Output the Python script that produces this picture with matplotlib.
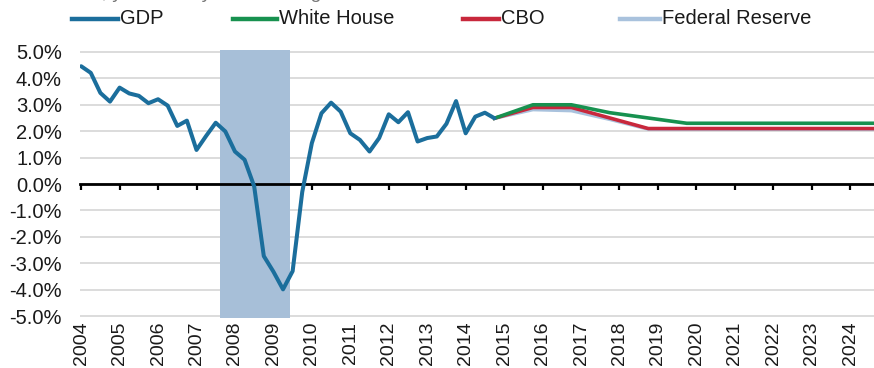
import matplotlib
matplotlib.use("Agg")
import matplotlib.pyplot as plt
from matplotlib.lines import Line2D
import numpy as np

plt.rcParams['font.family'] = ['Liberation Sans', 'DejaVu Sans']

# Real GDP, year-over-year % change, quarterly 2004Q1 - 2014Q4
gdp_start = 2004.0
gdp = [4.46, 4.21, 3.45, 3.12,
       3.65, 3.43, 3.34, 3.06,
       3.21, 2.97, 2.20, 2.40,
       1.29, 1.82, 2.32, 1.99,
       1.23, 0.92, -0.09, -2.73,
       -3.32, -3.99, -3.30, -0.30,
       1.55, 2.68, 3.08, 2.74,
       1.92, 1.67, 1.23, 1.74,
       2.64, 2.34, 2.72, 1.61,
       1.74, 1.80, 2.28, 3.14,
       1.92, 2.55, 2.70, 2.49]

# Annual growth projections, plotted at Q4 of each year (from 2014 actual)
proj_years = [2014, 2015, 2016, 2017, 2018, 2019, 2020, 2021, 2022, 2023, 2024, 2025]
white_house = [2.49, 3.0, 3.0, 2.7, 2.5, 2.3, 2.3, 2.3, 2.3, 2.3, 2.3, 2.3]
cbo = [2.49, 2.9, 2.9, 2.5, 2.1, 2.1, 2.1, 2.1, 2.1, 2.1, 2.1, 2.1]
fed = [2.49, 2.82, 2.78, 2.45, 2.08, 2.08, 2.08, 2.08, 2.08, 2.08, 2.08, 2.08]

recession = (2007.61, 2009.43)

year_ticks = list(range(2004, 2025))
y_ticks = [-5, -4, -3, -2, -1, 0, 1, 2, 3, 4, 5]

series_names = ["GDP", "White House", "CBO", "Federal Reserve"]
colors = {"GDP": "#1B6E9C", "White House": "#17914F",
          "CBO": "#C8283C", "Federal Reserve": "#A9C2DD"}

W, H = 874, 368
fig = plt.figure(figsize=(W / 100, H / 100), dpi=100)
ax = fig.add_axes([80 / W, 1 - 317.6 / H, 1 - 80 / W, (317.6 - 50.4) / H])

ax.set_xlim(2003.97, 2024.62)
ax.set_ylim(-5.06, 5.06)

# recession shading
ax.axvspan(recession[0], recession[1], color="#A7BFD8", lw=0, zorder=1)

# horizontal grid
ax.set_yticks(y_ticks)
ax.set_yticklabels([f"{v:.1f}%" for v in y_ticks])
ax.yaxis.grid(True, color="#D6D6D6", lw=1.2, zorder=0)
ax.set_axisbelow(True)
ax.tick_params(axis="y", length=0, pad=13, labelsize=14.5, labelcolor="#1A1A1A")

for s in ["left", "right", "top"]:
    ax.spines[s].set_visible(False)
ax.spines["bottom"].set_position(("data", 0))
ax.spines["bottom"].set_linewidth(2.0)
ax.spines["bottom"].set_color("black")
ax.spines["bottom"].set_zorder(3)
ax.set_xticks(year_ticks)
ax.tick_params(axis="x", direction="out", length=4.5, width=1.6, color="black",
               labelbottom=False)

# year labels along the bottom
sec = ax.secondary_xaxis(0.0)
sec.set_xticks(year_ticks)
sec.set_xticklabels([str(y) for y in year_ticks], rotation=90)
sec.tick_params(length=0, pad=3, labelsize=14, labelcolor="#1A1A1A")
sec.spines["bottom"].set_visible(False)

# projections
px = np.array(proj_years) + 0.75
ax.plot(px, fed, color=colors["Federal Reserve"], lw=2.6, zorder=4,
        solid_joinstyle="round")
ax.plot(px, cbo, color=colors["CBO"], lw=2.6, zorder=5, solid_joinstyle="round")
ax.plot(px, white_house, color=colors["White House"], lw=2.6, zorder=6,
        solid_joinstyle="round")

# GDP history
gx = gdp_start + np.arange(len(gdp)) * 0.25
ax.plot(gx, gdp, color=colors["GDP"], lw=2.9, zorder=7,
        solid_joinstyle="round", solid_capstyle="round")

# legend row
legend_pos = [(72, 118), (233, 277), (463, 499), (620, 660)]
for name, (x0, x1) in zip(series_names, legend_pos):
    fig.add_artist(Line2D([x0 / W, x1 / W], [1 - 19 / H, 1 - 19 / H],
                          transform=fig.transFigure, color=colors[name], lw=3.2))
    fig.text((x1 + 2) / W, 1 - 19 / H, name, ha="left", va="center",
             fontsize=14.5, color="#1A1A1A")

# chart heading (runs off the top edge)
fig.text(16 / W, 1 + 1.5 / H, "Real GDP, year-over-year % change",
         ha="left", va="baseline", fontsize=14, color="#777777")

fig.savefig("out.png", dpi=100)
